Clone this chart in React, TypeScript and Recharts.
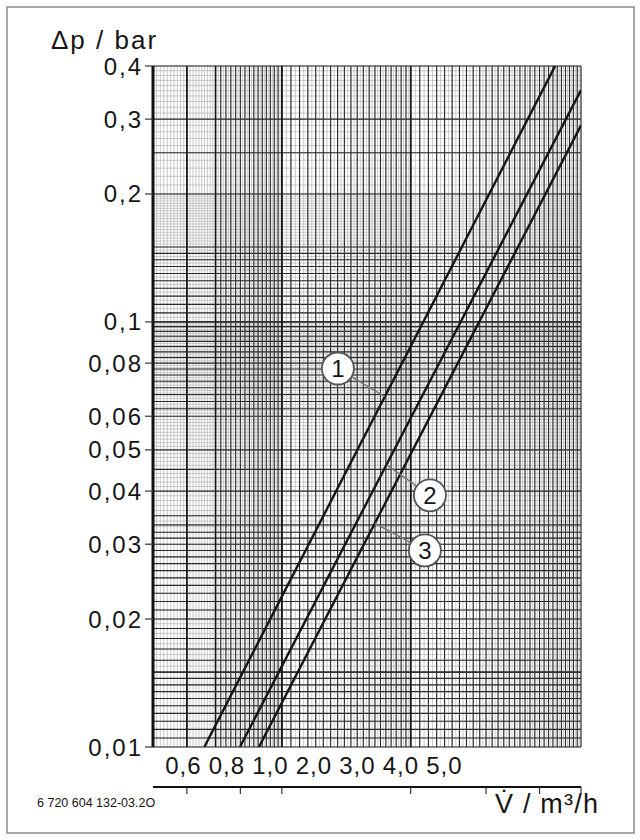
import React from 'react';
import { LineChart, Line, XAxis, YAxis, ReferenceLine, ReferenceDot } from 'recharts';

const FONT = '"Liberation Sans", Arial, Helvetica, sans-serif';

// ---- axes ----
const xDomain: [number, number] = [0.5, 5];
const yDomain: [number, number] = [0.01, 0.4];
const xTicks = [0.6, 0.8, 1, 2, 3, 4, 5];
const xTickLabels = ['0,6', '0,8', '1,0', '2,0', '3,0', '4,0', '5,0'];
// where the original prints its (crowded) x labels, in axis units
const xLabelAnchors = [0.589, 0.744, 0.94, 1.188, 1.501, 1.897, 2.397];
const yTicks = [0.01, 0.02, 0.03, 0.04, 0.05, 0.06, 0.08, 0.1, 0.2, 0.3, 0.4];
const yTickLabels = ['0,01', '0,02', '0,03', '0,04', '0,05', '0,06', '0,08', '0,1', '0,2', '0,3', '0,4'];

// ---- curves (V̇ in m³/h, Δp in bar): straight lines on log-log paper ----
const curve1 = [
  { v: 0.659, dp: 0.01 },
  { v: 4.35, dp: 0.4 },
];
const curve2 = [
  { v: 0.798, dp: 0.01 },
  { v: 5.0, dp: 0.351 },
];
const curve3 = [
  { v: 0.884, dp: 0.01 },
  { v: 5.0, dp: 0.29 },
];

// ---- callouts: circle position and the point on the curve it points to ----
const callouts = [
  { id: '1', v: 1.352, dp: 0.0777, toV: 1.74, toDp: 0.0667 },
  { id: '2', v: 2.218, dp: 0.0391, toV: 1.757, toDp: 0.0461 },
  { id: '3', v: 2.159, dp: 0.029, toV: 1.65, toDp: 0.0336 },
];

// ---- log-paper grid ----
function steps(from: number, to: number, step: number): number[] {
  const out: number[] = [];
  const n = Math.round((to - from) / step);
  for (let i = 0; i <= n; i++) out.push(+(from + i * step).toFixed(6));
  return out;
}
const vLight = [...steps(0.5, 1, 0.01), ...steps(1, 2, 0.025), ...steps(2, 5, 0.05)];
const vDark = [0.6, ...steps(0.7, 1, 0.02), ...steps(1, 2, 0.05), ...steps(2, 5, 0.1)];
const vMajor = [0.6, 0.7, 1, 2];
const hLight = [
  ...steps(0.01, 0.02, 0.0005),
  ...steps(0.02, 0.1, 0.001),
  ...steps(0.1, 0.2, 0.0025),
  ...steps(0.2, 0.4, 0.01),
];
const hDark = [
  ...steps(0.01, 0.015, 0.0005),
  ...steps(0.015, 0.03, 0.001),
  0.031, 0.032, 0.0333, 0.035, 0.04, 0.045, 0.05,
  ...steps(0.06, 0.1, 0.0025),
  ...steps(0.1, 0.15, 0.005),
  0.2, 0.25, 0.3, 0.4,
];

const xTickText = { fontSize: 24, fill: '#151515', fontFamily: FONT, letterSpacing: 1, style: { letterSpacing: '1px' } };
const yTickText = { fontSize: 24, fill: '#151515', fontFamily: FONT, letterSpacing: 2, style: { letterSpacing: '2px' } };

export default function App() {
  return (
    <div style={{ position: 'absolute', left: 0, top: 0, width: 640, height: 840, background: '#fff' }}>
      <LineChart width={640} height={840} margin={{ top: 66, right: 59, bottom: 46, left: 0 }}>
        <XAxis
          xAxisId="x"
          type="number"
          dataKey="v"
          scale="log"
          domain={xDomain}
          allowDataOverflow
          ticks={xTicks}
          interval={0}
          tickFormatter={() => ''}
          height={7}
          tickSize={7}
          tickMargin={0}
          axisLine={{ stroke: '#111', strokeWidth: 2 }}
          tickLine={{ stroke: '#333', strokeWidth: 1.2 }}
        />
        <XAxis
          xAxisId="lbl"
          type="number"
          dataKey="v"
          scale="log"
          domain={xDomain}
          allowDataOverflow
          ticks={xLabelAnchors}
          interval={0}
          tickFormatter={(v: number) => xTickLabels[xLabelAnchors.indexOf(v)] ?? ''}
          height={40}
          tickSize={0}
          tickMargin={10}
          axisLine={false}
          tickLine={false}
          tick={xTickText}
        />
        <YAxis
          yAxisId="y"
          type="number"
          dataKey="dp"
          scale="log"
          domain={yDomain}
          allowDataOverflow
          ticks={yTicks}
          interval={0}
          tickFormatter={(v: number) => yTickLabels[yTicks.indexOf(v)] ?? ''}
          width={153}
          tickSize={8}
          tickMargin={2}
          axisLine={{ stroke: '#111', strokeWidth: 3 }}
          tickLine={{ stroke: '#333', strokeWidth: 1.2 }}
          tick={yTickText}
        />

        {vLight.map((v) => (
          <ReferenceLine key={'vl' + v} xAxisId="x" yAxisId="y" x={v} stroke="#b2b2b2" strokeWidth={0.7} zIndex={-90} />
        ))}
        {hLight.map((v) => (
          <ReferenceLine key={'hl' + v} xAxisId="x" yAxisId="y" y={v} stroke="#b2b2b2" strokeWidth={0.7} zIndex={-90} />
        ))}
        {vDark.map((v) => (
          <ReferenceLine key={'vd' + v} xAxisId="x" yAxisId="y" x={v} stroke="#2a2a2a" strokeWidth={1.1} zIndex={-80} />
        ))}
        {hDark.map((v) => (
          <ReferenceLine key={'hd' + v} xAxisId="x" yAxisId="y" y={v} stroke="#2a2a2a" strokeWidth={1.1} zIndex={-80} />
        ))}
        {vMajor.map((v) => (
          <ReferenceLine key={'vm' + v} xAxisId="x" yAxisId="y" x={v} stroke="#151515" strokeWidth={1.6} zIndex={-70} />
        ))}

        <Line type="linear" xAxisId="x" yAxisId="y" data={curve1} dataKey="dp" stroke="#151515" strokeWidth={2.4} dot={false} isAnimationActive={false} />
        <Line type="linear" xAxisId="x" yAxisId="y" data={curve2} dataKey="dp" stroke="#151515" strokeWidth={2.4} dot={false} isAnimationActive={false} />
        <Line type="linear" xAxisId="lbl" yAxisId="y" data={curve3} dataKey="dp" stroke="#151515" strokeWidth={2.4} dot={false} isAnimationActive={false} />

        {callouts.map((c) => (
          <ReferenceLine
            key={'ld' + c.id}
            xAxisId="x"
            yAxisId="y"
            segment={[{ x: c.toV, y: c.toDp }, { x: c.v, y: c.dp }]}
            stroke="#7a7a7a"
            strokeWidth={1.5}
            zIndex={1500}
          />
        ))}
        {callouts.map((c) => (
          <ReferenceDot
            key={'cd' + c.id}
            xAxisId="x"
            yAxisId="y"
            x={c.v}
            y={c.dp}
            r={16}
            fill="#fff"
            stroke="#555"
            strokeWidth={1.8}
            zIndex={1600}
            label={{ value: c.id, position: 'center', fill: '#151515', fontSize: 24, fontFamily: FONT }}
          />
        ))}
      </LineChart>
      <svg width={640} height={840} style={{ position: 'absolute', left: 0, top: 0, pointerEvents: 'none' }}>
        <rect x={7} y={7} width={627} height={826} fill="none" stroke="#8a8a8a" strokeWidth={1.5} />
        <text x={51} y={49} fontSize={26} fontFamily={FONT} fill="#151515" style={{ letterSpacing: '2px' }}>
          Δp / bar
        </text>
        <text x={495} y={813} fontSize={27} fontFamily={FONT} fill="#151515" style={{ letterSpacing: '1.2px' }}>
          {'V\u0307 / m³/h'}
        </text>
        <text x={37} y={807} fontSize={12.5} fontFamily={FONT} fill="#151515">
          6 720 604 132-03.2O
        </text>
      </svg>
    </div>
  );
}
